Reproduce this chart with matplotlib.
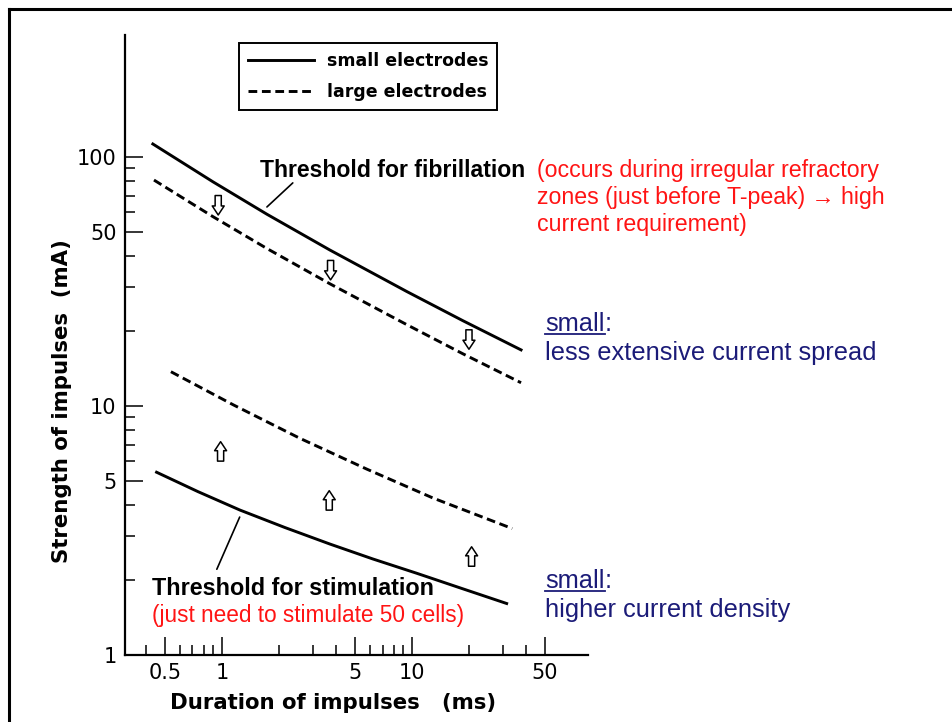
import matplotlib
matplotlib.use('Agg')
import matplotlib.pyplot as plt
from matplotlib.lines import Line2D
from matplotlib.ticker import FixedLocator, NullFormatter, FuncFormatter

# values: duration (ms) vs strength (mA)
fib_small_x = [0.433, 0.897, 1.725, 3.70, 9.41, 18.55, 37.5]
fib_small_y = [112.8, 79.5, 58.9, 42.3, 28.8, 22.0, 16.8]
fib_large_x = [0.439, 0.897, 1.725, 3.70, 9.41, 18.55, 37.5]
fib_large_y = [80.8, 57.6, 42.9, 30.96, 21.2, 16.2, 12.4]
stim_large_x = [0.539, 1.15, 2.57, 5.78, 12.9, 33.7]
stim_large_y = [13.73, 10.1, 7.42, 5.58, 4.27, 3.22]
stim_small_x = [0.453, 0.748, 1.244, 2.146, 3.70, 6.23, 10.58, 18.3, 31.5]
stim_small_y = [5.42, 4.53, 3.82, 3.25, 2.79, 2.43, 2.13, 1.85, 1.61]

# tips of the small hollow arrows
down_x = [0.956, 3.73, 19.95]
down_y = [58.5, 32.1, 16.9]
up_x = [0.984, 3.67, 20.6]
up_y = [7.19, 4.57, 2.72]

x_major = [0.5, 1, 5, 10, 50]
x_minor = [0.4, 0.6, 0.7, 0.8, 0.9, 2, 3, 4, 6, 7, 8, 9, 20, 30, 40]
y_major = [1, 5, 10, 50, 100]
y_minor = [2, 3, 4, 6, 7, 8, 9, 20, 30, 40, 60, 70, 80, 90]

W, H = 952, 722
RED = '#ff1414'
NAVY = '#1b1b78'
TEXT_FONT = ['Liberation Sans', 'DejaVu Sans']


def fxy(px, py):
    # pixel position -> figure fraction
    return px / W, 1 - py / H


fig = plt.figure(figsize=(W / 100, H / 100), dpi=100)
ax = fig.add_axes([125 / W, 1 - 655 / H, 463 / W, 620 / H])

ax.set_xscale('log')
ax.set_yscale('log')
ax.set_xlim(0.309, 84.4)
ax.set_ylim(1, 309)

dash = (3.0, 1.6)
ax.plot(fib_small_x, fib_small_y, color='black', lw=2.1, label='small electrodes')
ax.plot(fib_large_x, fib_large_y, color='black', lw=2.1, dashes=dash,
        label='large electrodes')
ax.plot(stim_large_x, stim_large_y, color='black', lw=2.1, dashes=dash)
ax.plot(stim_small_x, stim_small_y, color='black', lw=2.1)

arrow_props = dict(arrowstyle='simple,head_length=0.5,head_width=0.66,tail_width=0.34',
                   fc='white', ec='black', lw=1.1, shrinkA=0, shrinkB=0,
                   mutation_scale=13)
for x, y in zip(down_x, down_y):
    ax.annotate('', xy=(x, y), xytext=(0, 14), textcoords='offset points',
                arrowprops=arrow_props)
for x, y in zip(up_x, up_y):
    ax.annotate('', xy=(x, y), xytext=(0, -14), textcoords='offset points',
                arrowprops=arrow_props)

# leader lines from the labels to the curves
ax.annotate('', xy=(1.725, 63.0), xytext=(2.36, 78.7),
            arrowprops=dict(arrowstyle='-', color='black', lw=1.2,
                            shrinkA=0, shrinkB=0))
ax.annotate('', xy=(1.24, 3.58), xytext=(0.94, 2.21),
            arrowprops=dict(arrowstyle='-', color='black', lw=1.2,
                            shrinkA=0, shrinkB=0))

# axes look
for side in ['top', 'right']:
    ax.spines[side].set_visible(False)
for side in ['left', 'bottom']:
    ax.spines[side].set_linewidth(1.6)

ax.xaxis.set_major_locator(FixedLocator(x_major))
ax.xaxis.set_minor_locator(FixedLocator(x_minor))
ax.yaxis.set_major_locator(FixedLocator(y_major))
ax.yaxis.set_minor_locator(FixedLocator(y_minor))
fmt = FuncFormatter(lambda v, pos: '%g' % v)
ax.xaxis.set_major_formatter(fmt)
ax.yaxis.set_major_formatter(fmt)
ax.xaxis.set_minor_formatter(NullFormatter())
ax.yaxis.set_minor_formatter(NullFormatter())
ax.tick_params(which='major', direction='in', length=13, width=1.1,
               labelsize=15, pad=6)
ax.tick_params(which='minor', direction='in', length=7, width=1.1)
for lab in ax.get_xticklabels() + ax.get_yticklabels():
    lab.set_family('DejaVu Sans')

ax.set_xlabel('Duration of impulses   (ms)', fontsize=15.3, weight='bold',
              family='DejaVu Sans')
ax.xaxis.set_label_coords((333 - 125) / 463, -38 / 620)
ax.set_ylabel('Strength of impulses  (mA)', fontsize=15.3, weight='bold',
              family='DejaVu Sans')
ax.yaxis.set_label_coords(-(125 - 72) / 463, (655 - 401) / 620)

leg = ax.legend(loc='upper left', bbox_to_anchor=fxy(239, 43),
                bbox_transform=fig.transFigure, fancybox=False,
                edgecolor='black', framealpha=1, borderaxespad=0,
                prop={'family': 'DejaVu Sans', 'weight': 'bold', 'size': 12.5},
                handlelength=3.8, handletextpad=0.75, borderpad=0.5,
                labelspacing=0.78)
leg.get_frame().set_linewidth(1.4)

# labels on the plot
fig.text(*fxy(260, 177), 'Threshold for fibrillation', fontsize=16.6,
         weight='bold', family=TEXT_FONT, va='baseline')
fig.text(*fxy(152, 595), 'Threshold for stimulation', fontsize=16.8,
         weight='bold', family=TEXT_FONT, va='baseline')

fig.text(*fxy(537, 177), '(occurs during irregular refractory',
         fontsize=16.7, color=RED, family=TEXT_FONT, va='baseline')
fig.text(*fxy(537, 204), 'zones (just before T-peak) \u2192 high',
         fontsize=16.7, color=RED, family=TEXT_FONT, va='baseline')
fig.text(*fxy(537, 231), 'current requirement)',
         fontsize=16.7, color=RED, family=TEXT_FONT, va='baseline')
fig.text(*fxy(152, 622), '(just need to stimulate 50 cells)',
         fontsize=16.3, color=RED, family=TEXT_FONT, va='baseline')

fig.canvas.draw()
renderer = fig.canvas.get_renderer()
for base, second in [(331, 'less extensive current spread'),
                     (588, 'higher current density')]:
    t = fig.text(*fxy(545, base), 'small', fontsize=18.3, color=NAVY,
                 family=TEXT_FONT, va='baseline')
    bb = t.get_window_extent(renderer)
    fig.text(bb.x1 / W, 1 - base / H, ':', fontsize=18.3, color=NAVY,
             family=TEXT_FONT, va='baseline')
    fig.add_artist(Line2D([bb.x0 / W, bb.x1 / W],
                          [1 - (base + 2.5) / H, 1 - (base + 2.5) / H],
                          color=NAVY, lw=1.3, transform=fig.transFigure))
    fig.text(*fxy(545, base + 29), second, fontsize=18.3, color=NAVY,
             family=TEXT_FONT, va='baseline')

# slide frame (top and left edges only)
fig.add_artist(Line2D([9 / W, 1], [1 - 9 / H, 1 - 9 / H], color='black',
                      lw=2.2, transform=fig.transFigure))
fig.add_artist(Line2D([9 / W, 9 / W], [0, 1 - 9 / H], color='black',
                      lw=2.2, transform=fig.transFigure))

fig.savefig('out.png', dpi=100)
